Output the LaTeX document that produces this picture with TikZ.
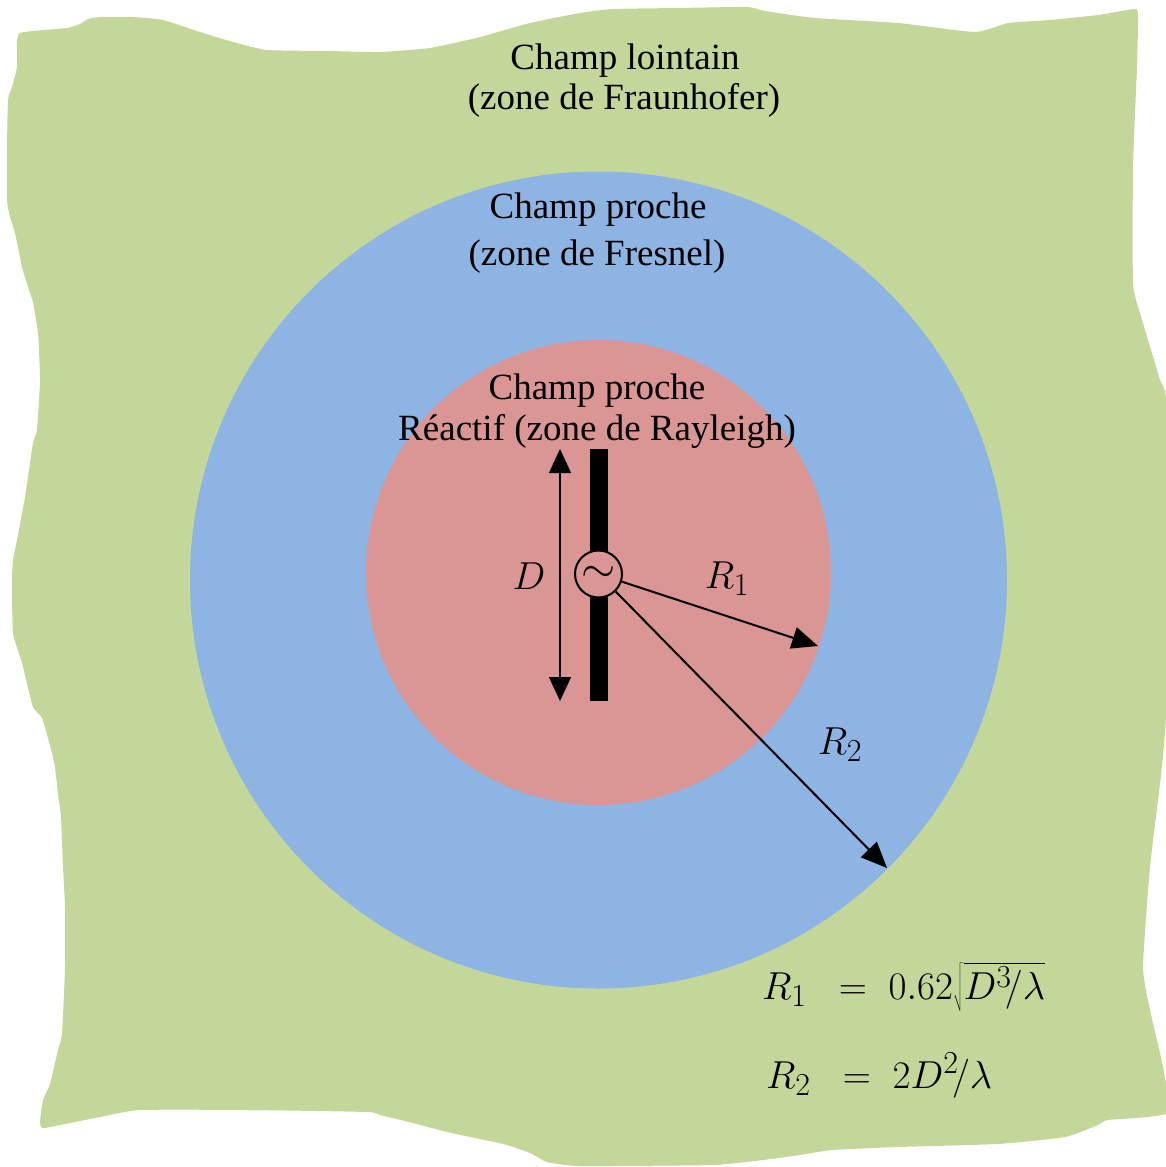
\RequirePackage{fix-cm}
\documentclass[tikz,border=0pt]{standalone}
\usepackage{fontspec}
\setmainfont{Liberation Serif}
\usetikzlibrary{arrows.meta}
\newcommand\smallidx[1]{\mbox{\fontsize{32}{32}\selectfont$#1$}}
\definecolor{farg}{HTML}{C4D79B}
\definecolor{fresb}{HTML}{8EB4E3}
\definecolor{reacr}{HTML}{D99694}
\tikzset{
  lbl/.style={anchor=base, inner sep=0pt, font=\fontsize{37}{40}\selectfont},
  mlbl/.style={anchor=base, inner sep=0pt, font=\fontsize{39}{40}\selectfont},
  flbl/.style={anchor=base west, inner sep=0pt, font=\fontsize{39}{40}\selectfont},
  bigarrow/.style={line width=2pt, -{Triangle[length=26pt,width=22pt]}},
  dimarrow/.style={line width=1.3pt, {Triangle[length=24pt,width=22pt]}-{Triangle[length=24pt,width=22pt]}}
}
\begin{document}
\begin{tikzpicture}[x=1pt,y=-1pt]
\useasboundingbox (0,0) rectangle (1165,1167);
% far-field blob
\fill[farg] plot[smooth cycle, tension=0.3] coordinates {
(17,40) (20,33) (33,31) (67,28) (80,24) (88,19) (100,17) (133,17) (163,20) (200,32) (233,42) (267,50) (330,51) (380,52) (430,48) (480,37) (530,23) (580,13) (613,9) (680,8) (747,7) (765,11) (815,18) (898,23) (975,32) (1008,23) (1050,20) (1098,15) (1135,9) (1138,17) (1137,67) (1133,167) (1133,283) (1140,313) (1152,353) (1160,380) (1166,400) (1167,550) (1166,713) (1161,775) (1150,867) (1143,967) (1150,1010) (1163,1067) (1167,1113) (1108,1120) (1098,1125) (1065,1137) (998,1144) (898,1147) (832,1150) (800,1155) (763,1160) (713,1165) (580,1166) (547,1162) (530,1153) (507,1145) (480,1139) (447,1132) (413,1123) (380,1115) (367,1112) (250,1110) (140,1110) (100,1117) (50,1127) (42,1128) (40,1122) (43,1100) (50,1084) (58,1050) (62,1034) (65,967) (65,907) (63,867) (61,817) (58,794) (55,767) (52,753) (42,718) (33,707) (22,663) (13,633) (12,580) (13,560) (17,540) (25,497) (33,443) (37,430) (40,380) (38,333) (33,302) (30,293) (25,277) (22,267) (15,233) (10,217) (7,200) (7,150) (8,100) (12,87) (17,67)};
% zones
\fill[fresb] (598.5,580) circle[radius=408.5pt];
\fill[reacr] (598.5,572.5) circle[radius=232.5pt];
% zone labels
\node[lbl] (far1) at (625,69) {Champ lointain};
\node[lbl] (far2) at (624,109) {(zone de Fraunhofer)};
\node[lbl] (fre1) at (598,218) {Champ proche};
\node[lbl] (fre2) at (597,265) {(zone de Fresnel)};
\node[lbl] (rea1) at (597,399) {Champ proche};
\node[lbl] (rea2) at (597,440) {Réactif (zone de Rayleigh)};
% antenna
\node[fill=black, inner sep=0pt, minimum width=18pt, minimum height=252pt] (dipole) at (599,575) {};
\node[circle, draw=black, line width=2pt, fill=reacr, inner sep=0pt, minimum size=47pt, font=\fontsize{44}{44}\selectfont] (src) at (598.5,574) {$\sim$};
% dimension D
\coordinate (dtop) at (560,449);
\coordinate (dbot) at (560,701);
\draw[dimarrow] (dtop) -- (dbot);
\node[mlbl] (dlab) at (529,589) {$D$};
% radii
\coordinate (r1tip) at (818,646);
\coordinate (r2tip) at (887,868);
\draw[bigarrow] (src) -- (r1tip);
\draw[bigarrow] (src) -- (r2tip);
\node[mlbl] (r1lab) at (727,588) {$R_{\smallidx{1}}$};
\node[mlbl] (r2lab) at (840,754) {$R_{\smallidx{2}}$};
% formulas
\node[flbl] (f1) at (762,999) {$R_{\smallidx{1}} \;\;=\; 0.62\sqrt{D^{\smallidx{3}}\!/\lambda}$};
\node[flbl] (f2) at (766,1088) {$R_{\smallidx{2}} \;\;=\; 2D^{\smallidx{2}}\!/\lambda$};
\end{tikzpicture}
\end{document}
